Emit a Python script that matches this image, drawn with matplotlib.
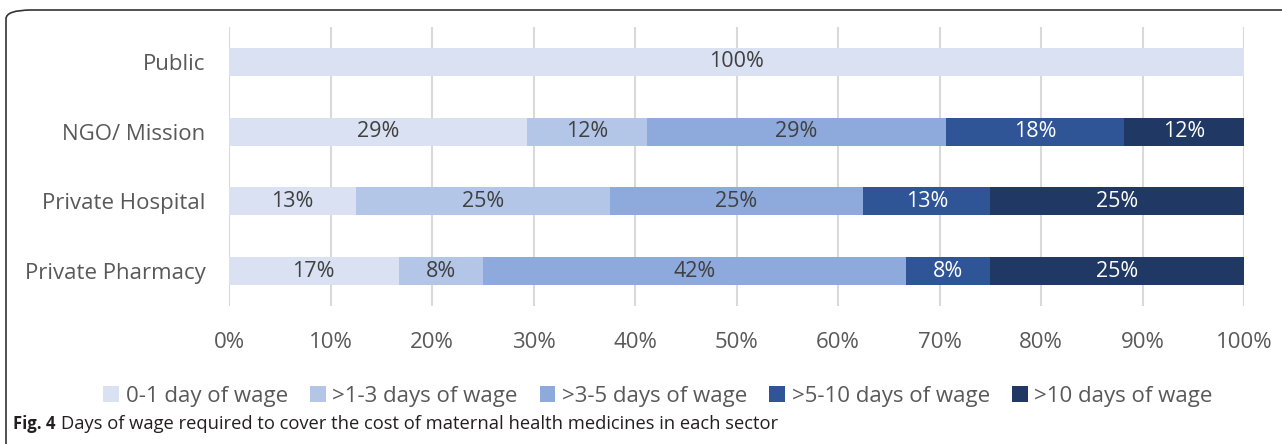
import numpy as np
import matplotlib.pyplot as plt
from matplotlib.patches import FancyBboxPatch

# data (percent of outlets)
sectors = ["Public", "NGO/ Mission", "Private Hospital", "Private Pharmacy"]
groups = ["0-1 day of wage", ">1-3 days of wage", ">3-5 days of wage",
          ">5-10 days of wage", ">10 days of wage"]
d0_1 = [100, 29.4, 12.5, 16.7]
d1_3 = [0, 11.8, 25.0, 8.3]
d3_5 = [0, 29.4, 25.0, 41.7]
d5_10 = [0, 17.6, 12.5, 8.3]
d10 = [0, 11.8, 25.0, 25.0]

colors = ["#D9E1F2", "#B4C6E7", "#8EA9DB", "#2F5597", "#203864"]
label_colors = ["#404040", "#404040", "#404040", "white", "white"]

plt.rcParams['font.family'] = ['Open Sans', 'DejaVu Sans']

fig = plt.figure(figsize=(12.82, 4.44), dpi=100)
ax = fig.add_axes([229/1282, 1-306/444, (1244-229)/1282, 279/444])

series = [d0_1, d1_3, d3_5, d5_10, d10]
y = np.arange(len(sectors))
left = np.zeros(len(sectors))
for vals, name, c, lc in zip(series, groups, colors, label_colors):
    vals = np.array(vals)
    ax.barh(y, vals, left=left, height=0.4, color=c, label=name, zorder=3)
    for yi, l, v in zip(y, left, vals):
        if v > 0:
            ax.text(l + v/2, yi, f"{int(np.floor(v + 0.5))}%", ha="center", va="center",
                    fontsize=15.5, color=lc, zorder=4)
    left += vals

ax.set_xlim(0, 100)
ax.set_ylim(3.5, -0.5)
ax.set_yticks(y)
ax.set_yticklabels(sectors)
ax.set_xticks(np.arange(0, 101, 10))
ax.set_xticklabels([f"{t}%" for t in range(0, 101, 10)])
ax.tick_params(axis="both", length=0, labelsize=16, colors="#595959")
ax.tick_params(axis="x", pad=19)
ax.tick_params(axis="y", pad=17)
ax.grid(axis="x", color="#D9D9D9", linewidth=1.5, zorder=0)
for s in ax.spines.values():
    s.set_visible(False)

leg = fig.legend(loc="center", bbox_to_anchor=(658/1282, 1-396/444), ncol=5,
                 frameon=False, fontsize=16, handlelength=0.7, handleheight=0.7,
                 handletextpad=0.3, columnspacing=1.0)
for t in leg.get_texts():
    t.set_color("#595959")

# caption
fig_lbl = fig.text(13/1282, 1-424/444, "Fig. 4", fontsize=12, fontweight="bold",
                   color="#231F20", va="center")
ax.annotate("Days of wage required to cover the cost of maternal health medicines in each sector",
            xy=(1, 0.5), xycoords=fig_lbl, xytext=(4, 0), textcoords="offset points",
            fontsize=13.2, color="#231F20", va="center", ha="left")

# outer frame
frame = FancyBboxPatch((6/1282, -0.2), 1.2, 1-10/444 + 0.2,
                       boxstyle="round,pad=0,rounding_size=0.02",
                       transform=fig.transFigure, fill=False,
                       edgecolor="#333333", linewidth=1.2)
fig.patches.append(frame)

fig.savefig("out.png", dpi=100)
